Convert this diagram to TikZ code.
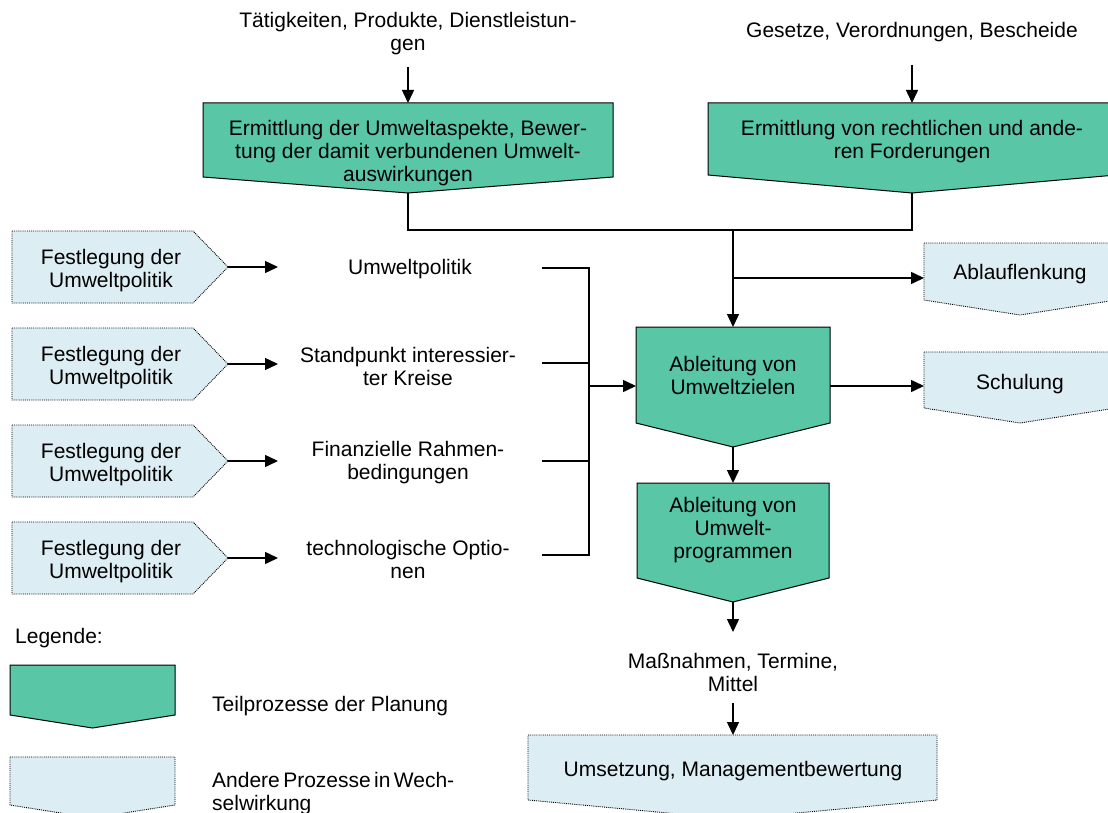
\documentclass[tikz,border=0pt]{standalone}
\usepackage{fontspec}
\setmainfont{Liberation Sans}
\usetikzlibrary{arrows.meta}
\definecolor{grn}{RGB}{89,198,166}
\definecolor{lblue}{RGB}{220,237,243}
\newcommand\pentpath[6]{\path[#1] (#2,#4) -- (#3,#4) -- (#3,#5) -- ({(#2+#3)/2},#6) -- (#2,#5) -- cycle;}
\newcommand\arrowbox[6]{\path[#1] (#2,#5) -- (#3,#5) -- (#4,{(#5+#6)/2}) -- (#3,#6) -- (#2,#6) -- cycle;}
\begin{document}
\begin{tikzpicture}[x=1pt,y=-1pt,
  gbox/.style={fill=grn, draw=black, line width=1pt},
  bbox/.style={fill=lblue, draw=black, densely dotted, line width=0.9pt},
  txt/.style={font=\fontsize{21}{23}\selectfont, align=center, inner sep=0pt},
  ltxt/.style={font=\fontsize{21}{23}\selectfont, align=left, inner sep=0pt, anchor=west},
  arr/.style={-{Triangle[length=13pt,width=12pt]}, line width=1.5pt},
  ln/.style={line width=1.5pt}]
\clip (0,0) rectangle (1108,813);
\fill[white] (0,0) rectangle (1108,813);

% ---------- boxes ----------
\pentpath{gbox}{203}{613}{103}{177}{193}
\pentpath{gbox}{708}{1116}{103}{175}{193}
\pentpath{gbox}{636}{830}{327}{423}{447}
\pentpath{gbox}{637}{829}{483}{578}{602}
\pentpath{bbox}{924}{1116}{243}{300}{315}
\pentpath{bbox}{924}{1116}{352}{408}{423}
\pentpath{bbox}{528}{937}{735}{800}{819}
\pentpath{gbox}{10}{175}{665}{715}{728}
\pentpath{bbox}{10}{175}{757}{805}{818}
\arrowbox{bbox}{12}{193}{228}{231}{303}
\arrowbox{bbox}{12}{193}{228}{328}{400}
\arrowbox{bbox}{12}{193}{228}{425}{497}
\arrowbox{bbox}{12}{193}{228}{522}{594}

% ---------- connection points ----------
\coordinate (erm1top) at (408,103);
\coordinate (erm1tip) at (408,193);
\coordinate (erm2top) at (912,103);
\coordinate (erm2tip) at (912,193);
\coordinate (jn) at (733,230);
\coordinate (br) at (733,278);
\coordinate (ablauftop) at (924,278);
\coordinate (abl1top) at (733,327);
\coordinate (abl1right) at (830,386);
\coordinate (abl1left) at (636,386);
\coordinate (abl1tip) at (733,447);
\coordinate (schulleft) at (924,386);
\coordinate (abl2top) at (733,483);
\coordinate (abl2tip) at (733,602);
\coordinate (umstop) at (733,735);
\coordinate (bus) at (589,386);
\coordinate (f1tip) at (228,267);
\coordinate (f2tip) at (228,364);
\coordinate (f3tip) at (228,461);
\coordinate (f4tip) at (228,558);

% ---------- texts ----------
\node[txt] (tin) at (408,34) {Tätigkeiten, Produkte, Dienstleistun-\\gen};
\node[txt] (gin) at (912,32) {Gesetze, Verordnungen, Bescheide};
\node[txt] (erm1) at (408,153) {Ermittlung der Umweltaspekte, Bewer-\\tung der damit verbundenen Umwelt-\\auswirkungen};
\node[txt] (erm2) at (912,142) {Ermittlung von rechtlichen und ande-\\ren Forderungen};
\node[txt] (ablauf) at (1020,274) {Ablauflenkung};
\node[txt] (schul) at (1020,384) {Schulung};
\node[txt] (abl1) at (733,375) {Ableitung von\\Umweltzielen};
\node[txt] (abl2) at (733,530) {Ableitung von\\Umwelt-\\programmen};
\node[txt] (mass) at (733,672) {Maßnahmen, Termine,\\Mittel};
\node[txt] (umsetz) at (733,771) {Umsetzung, Managementbewertung};
\node[txt] (f1) at (111,271) {Festlegung der\\Umweltpolitik};
\node[txt] (f2) at (111,368) {Festlegung der\\Umweltpolitik};
\node[txt] (f3) at (111,465) {Festlegung der\\Umweltpolitik};
\node[txt] (f4) at (111,562) {Festlegung der\\Umweltpolitik};
\node[txt] (u1) at (410,269) {Umweltpolitik};
\node[txt] (u2) at (408,366) {Standpunkt interessier-\\ter Kreise};
\node[txt] (u3) at (408,463) {Finanzielle Rahmen-\\bedingungen};
\node[txt] (u4) at (408,559) {technologische Optio-\\nen};
\node[ltxt] (leg) at (15,638) {Legende:};
\node[ltxt] (lg1) at (212,706) {Teilprozesse der Planung};
\node[ltxt] (lg2) at (212,794) {\hbox to 242pt{Andere\hfill Prozesse\hfill in\hfill Wech-}\\selwirkung};

% ---------- connectors ----------
\draw[arr] (tin.south) ++(0,12) -- (erm1top);
\draw[arr] (gin.south) ++(0,23) -- (erm2top);
\draw[ln] (erm1tip) -- (erm1tip |- jn) -- (erm2tip |- jn) -- (erm2tip);
\draw[arr] (jn) -- (abl1top);
\draw[arr] (br) -- (ablauftop);
\draw[arr] (abl1right) -- (schulleft);
\draw[arr] (abl1tip) -- (abl2top);
\draw[arr] (abl2tip) -- ++(0,30);
\draw[arr] (mass.south) ++(0,12) -- (umstop);

\foreach \f in {1,2,3,4}{\draw[arr] (f\f tip) -- ++(50,0);}

\draw[ln] (542,268) -- (589,268) -- (589,555) -- (542,555);
\draw[ln] (542,363) -- (589,363);
\draw[ln] (542,461) -- (589,461);
\draw[arr] (bus) -- (abl1left);
\end{tikzpicture}
\end{document}
